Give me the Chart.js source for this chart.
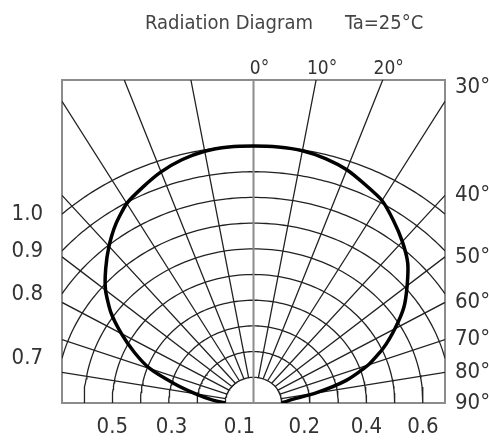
<!DOCTYPE html>
<html>
<head>
<meta charset="utf-8">
<script src="https://cdn.jsdelivr.net/npm/chart.js@4.4.1/dist/chart.umd.min.js"></script>
<style>
  html, body { margin: 0; padding: 0; background: #fff; }
  #wrap { width: 489px; height: 444px; position: relative; }
</style>
</head>
<body>
<div id="wrap"><canvas id="rad-chart"></canvas></div>
<script>
/* ===== DATA ===== */
// relative intensity, every 5 degrees from -90 to +90
const curveAngles = [
  -90, -85, -80, -75, -70, -65, -60, -55, -50, -45, -40, -35, -30, -25, -20, -15, -10, -5,
  0, 5, 10, 15, 20, 25, 30, 35, 40, 45, 50, 55, 60, 65, 70, 75, 80, 85, 90,
];
const curveIntensity = [
  0.10, 0.15, 0.21, 0.29, 0.39, 0.465, 0.54, 0.617, 0.684, 0.74, 0.796, 0.85, 0.897, 0.927, 0.957, 0.98, 0.995, 1.0,
  1.0, 1.0, 0.997, 0.985, 0.966, 0.937, 0.91, 0.865, 0.82, 0.772, 0.71, 0.65, 0.578, 0.508, 0.432, 0.34, 0.225, 0.13, 0.10,
];

// grid
const rayAngles = [-80, -70, -60, -50, -40, -30, -20, -10, 10, 20, 30, 40, 50, 60, 70, 80];
const arcRadii = [0.1, 0.2, 0.3, 0.4, 0.5, 0.6, 0.7, 0.8, 0.9, 1.0];

// tick labels
const topAngles = [0, 10, 20];
const rightAngles = [30, 40, 50, 60, 70, 80, 90];
const leftRadii = [1.0, 0.9, 0.8, 0.7];
const bottomTicks = [-0.5, -0.29, -0.05, 0.18, 0.4, 0.6];
const bottomLabels = ["0.5", "0.3", "0.1", "0.2", "0.4", "0.6"];

// axis limits (box edges)
const X_MAX = 0.678;
const Y_MAX = 1.257;

/* ===== HELPERS ===== */
const rad = (d) => (d * Math.PI) / 180;
const polar = (r, deg) => ({ x: r * Math.sin(rad(deg)), y: r * Math.cos(rad(deg)) });
const GAP = { x: NaN, y: NaN };

function rayPoints() {
  const pts = [];
  rayAngles.forEach((a) => {
    const s = Math.abs(Math.sin(rad(a)));
    const c = Math.cos(rad(a));
    const rEnd = Math.min(Y_MAX / c, s > 0 ? X_MAX / s : Infinity);
    pts.push(polar(arcRadii[0], a), polar(rEnd, a), GAP);
  });
  return pts;
}

function arcPoints() {
  const pts = [];
  arcRadii.forEach((r) => {
    const lim = r > X_MAX ? (Math.asin(X_MAX / r) * 180) / Math.PI : 90;
    for (let d = -lim; d <= lim + 1e-9; d += lim / 60) pts.push(polar(r, d));
    pts.push(GAP);
  });
  return pts;
}

// where a ray leaves the right edge (30deg sits in the corner)
function rightTick(a) {
  const y = X_MAX / Math.tan(rad(a));
  return y > Y_MAX - 0.1 ? Y_MAX - 0.03 : y;
}

const curvePoints = curveAngles.map((a, i) => polar(curveIntensity[i], a));

/* ===== TITLE ===== */
const FONT = "'Liberation Sans Narrow', 'DejaVu Sans Condensed', 'Liberation Sans', sans-serif";
const titlePlugin = {
  id: "radTitle",
  afterDraw(chart) {
    const ctx = chart.ctx;
    ctx.save();
    ctx.fillStyle = "#444";
    ctx.font = "20px " + FONT;
    ctx.textBaseline = "middle";
    ctx.fillText("Radiation Diagram", 145, 24);
    ctx.fillText("Ta=25°C", 345, 24);
    ctx.restore();
  },
};

/* ===== CHART ===== */
const tickFont = { family: FONT, size: 22 };
const noGrid = { display: false, drawTicks: false };
const box = { display: true, color: "#8c8c8c", width: 2 };

function fixedTicks(values) {
  return (scale) => {
    scale.ticks = values.map((v) => ({ value: v }));
  };
}

new Chart(document.getElementById("rad-chart"), {
  type: "scatter",
  data: {
    datasets: [
      {
        data: curvePoints,
        showLine: true,
        borderColor: "#000",
        borderWidth: 3.5,
        pointRadius: 0,
        tension: 0.2,
      },
      {
        data: [{ x: 0, y: 0 }, { x: 0, y: Y_MAX }],
        showLine: true,
        borderColor: "#8c8c8c",
        borderWidth: 2,
        pointRadius: 0,
      },
      {
        data: rayPoints(),
        showLine: true,
        spanGaps: false,
        borderColor: "#222",
        borderWidth: 1.3,
        pointRadius: 0,
      },
      {
        data: arcPoints(),
        showLine: true,
        spanGaps: false,
        borderColor: "#222",
        borderWidth: 1.3,
        pointRadius: 0,
      },
    ],
  },
  options: {
    responsive: true,
    maintainAspectRatio: false,
    animation: false,
    layout: { padding: 0 },
    plugins: { legend: { display: false }, tooltip: { enabled: false } },
    scales: {
      x: {
        type: "linear",
        position: "bottom",
        min: -X_MAX,
        max: X_MAX,
        grid: noGrid,
        border: box,
        afterBuildTicks: fixedTicks(bottomTicks),
        afterFit: (s) => { s.height = 41; },
        ticks: {
          padding: 11,
          color: "#333",
          font: tickFont,
          callback: (v, i) => bottomLabels[i],
        },
      },
      xTop: {
        type: "linear",
        position: "top",
        min: -X_MAX,
        max: X_MAX,
        grid: noGrid,
        border: box,
        afterBuildTicks: fixedTicks(topAngles.map((a) => Y_MAX * Math.tan(rad(a)))),
        afterFit: (s) => { s.height = 80; },
        ticks: {
          padding: 0,
          labelOffset: 6,
          color: "#333",
          font: { family: FONT, size: 19 },
          callback: (v, i) => topAngles[i] + "°",
        },
      },
      y: {
        type: "linear",
        position: "left",
        min: 0,
        max: Y_MAX,
        grid: noGrid,
        border: box,
        afterBuildTicks: fixedTicks(leftRadii.map((r) => Math.sqrt(r * r - X_MAX * X_MAX))),
        afterFit: (s) => { s.width = 62; },
        ticks: {
          padding: 19,
          color: "#333",
          font: tickFont,
          callback: (v, i) => leftRadii[i].toFixed(1),
        },
      },
      yRight: {
        type: "linear",
        position: "right",
        min: 0,
        max: Y_MAX,
        grid: noGrid,
        border: box,
        afterBuildTicks: fixedTicks(rightAngles.map(rightTick)),
        afterFit: (s) => { s.width = 44; },
        ticks: {
          padding: 10,
          color: "#333",
          font: tickFont,
          callback: (v, i) => rightAngles[i] + "°",
        },
      },
    },
  },
  plugins: [titlePlugin],
});
</script>
</body>
</html>
